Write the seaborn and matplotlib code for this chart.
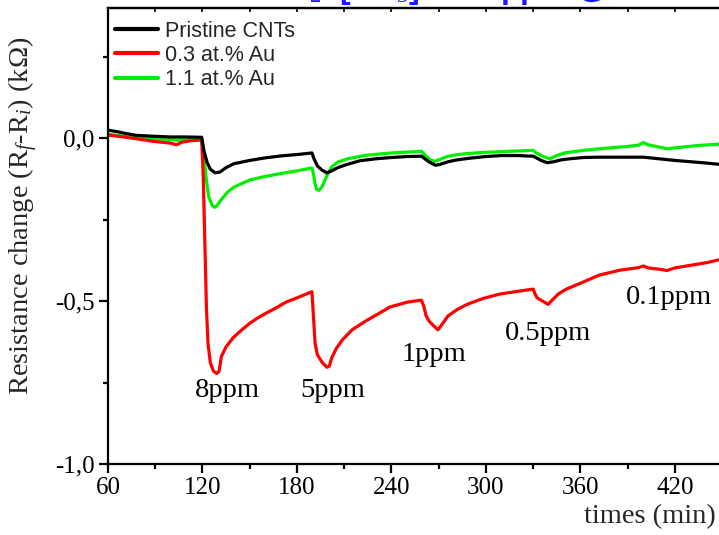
import matplotlib
matplotlib.use("Agg")
import matplotlib.pyplot as plt
import seaborn as sns
import pandas as pd
from matplotlib.ticker import FixedLocator

# ---------------- data ----------------
black_t = [60, 66, 72, 78, 90, 100, 110, 119.5, 121, 123, 125, 128, 131, 135, 140,
           150, 160, 170, 180, 189.5, 191, 193, 196, 199, 202, 206, 212, 220, 230, 240,
           250, 259, 261, 264, 268, 271, 276, 282, 290, 300, 310, 320, 330, 332, 335,
           339, 343, 348, 355, 362, 372, 385, 400, 410, 420, 430, 440, 448]
black_v = [0.025, 0.020, 0.014, 0.009, 0.006, 0.004, 0.004, 0.003, -0.040, -0.075,
           -0.095, -0.106, -0.104, -0.090, -0.078, -0.068, -0.060, -0.054, -0.050, -0.045,
           -0.065, -0.085, -0.098, -0.106, -0.100, -0.090, -0.080, -0.069, -0.063, -0.059,
           -0.056, -0.055, -0.062, -0.073, -0.083, -0.080, -0.072, -0.066, -0.061, -0.056,
           -0.053, -0.053, -0.055, -0.060, -0.068, -0.075, -0.072, -0.066, -0.062, -0.059,
           -0.058, -0.058, -0.058, -0.063, -0.068, -0.072, -0.076, -0.080]

green_t = [60, 70, 80, 90, 100, 104, 110, 119.5, 121, 122.5, 124, 126, 127.5, 129, 132,
           136, 140, 150, 160, 170, 180, 189.5, 190.5, 191.5, 192.5, 194, 196, 199, 202, 206,
           212, 224, 240, 259, 261, 264, 267.5, 271, 276, 282, 288, 300, 315, 330, 332,
           336, 340.5, 344, 350, 362, 375, 390, 397, 400, 403, 410, 415, 425, 435, 448]
green_v = [0.012, 0.006, 0.002, -0.002, -0.004, -0.006, -0.004, -0.002, -0.06, -0.13,
           -0.18, -0.205, -0.212, -0.208, -0.188, -0.165, -0.150, -0.128, -0.117, -0.108,
           -0.100, -0.091, -0.11, -0.14, -0.157, -0.160, -0.148, -0.115, -0.088, -0.073,
           -0.063, -0.052, -0.045, -0.040, -0.050, -0.064, -0.071, -0.064, -0.055, -0.050,
           -0.047, -0.043, -0.040, -0.037, -0.045, -0.055, -0.063, -0.055, -0.045, -0.037,
           -0.031, -0.025, -0.021, -0.013, -0.020, -0.027, -0.032, -0.027, -0.022, -0.018]

red_t = [60, 70, 80, 90, 100, 103.5, 107, 112, 119.5, 120.5, 121.5, 122.5, 123.5, 125, 127,
         129, 130.5, 132, 135, 139.5, 145, 150, 155, 160, 167, 173, 180, 189.5, 190.5, 191.5,
         193, 196, 199, 200.5, 202, 205, 209, 215, 224, 232, 239, 245, 250, 259, 260.5,
         262, 264, 266, 269.5, 272, 276, 282, 288, 298, 309, 320, 330, 331, 332.5, 336,
         339.5, 342, 346, 351, 360, 372, 385, 397, 400, 403, 410, 415, 420, 430, 440, 448]
red_v = [0.010, 0.004, -0.003, -0.010, -0.015, -0.020, -0.012, -0.008, -0.005, -0.12,
         -0.32, -0.52, -0.63, -0.69, -0.715, -0.722, -0.716, -0.67, -0.640, -0.612,
         -0.588, -0.568, -0.552, -0.538, -0.520, -0.503, -0.490, -0.471, -0.55, -0.63,
         -0.665, -0.688, -0.703, -0.700, -0.675, -0.645, -0.618, -0.588, -0.560, -0.538,
         -0.518, -0.510, -0.503, -0.497, -0.515, -0.545, -0.562, -0.572, -0.588, -0.572,
         -0.545, -0.525, -0.510, -0.492, -0.478, -0.470, -0.463, -0.476, -0.490, -0.500,
         -0.510, -0.497, -0.478, -0.463, -0.445, -0.420, -0.405, -0.397, -0.392, -0.398,
         -0.402, -0.406, -0.398, -0.390, -0.382, -0.373]

series_names = ["Pristine CNTs", "0.3 at.% Au", "1.1 at.% Au"]
series_colors = ["#000000", "#ff0000", "#00ee00"]

x_ticks = [60, 120, 180, 240, 300, 360, 420]
x_ticklabels = ["60", "120", "180", "240", "300", "360", "420"]
x_minor = [90, 150, 210, 270, 330, 390, 450]
y_ticks = [-1.0, -0.5, 0.0]
y_ticklabels = ["-1,0", "-0,5", "0,0"]
y_minor = [-0.75, -0.25, 0.25]

conc_labels = ["8ppm", "5ppm", "1ppm", "0.5ppm", "0.1ppm"]
conc_x = [135.9, 202.5, 266.7, 339.4, 416.2]
conc_y = [-0.794, -0.794, -0.684, -0.62, -0.509]

title_text = "Under NO$_2$  [NH$_3$] = 25 ppm @ RT"

# ---------------- style ----------------
sns.set_style("ticks")
plt.rcParams["font.family"] = ["Liberation Serif", "DejaVu Serif"]
plt.rcParams["mathtext.fontset"] = "custom"
plt.rcParams["mathtext.rm"] = "Liberation Serif"
plt.rcParams["mathtext.it"] = "Liberation Serif:italic"
plt.rcParams["axes.unicode_minus"] = False

fig = plt.figure(figsize=(7.19, 5.35), dpi=100)
ax = fig.add_axes([108 / 719, 71 / 535, 611 / 719, 456 / 535])

df_black = pd.DataFrame({"t": black_t, "v": black_v})
df_red = pd.DataFrame({"t": red_t, "v": red_v})
df_green = pd.DataFrame({"t": green_t, "v": green_v})

lw = 2.3
sns.lineplot(data=df_green, x="t", y="v", ax=ax, color=series_colors[2], lw=lw,
             estimator=None, sort=False, label=series_names[2])
sns.lineplot(data=df_red, x="t", y="v", ax=ax, color=series_colors[1], lw=lw,
             estimator=None, sort=False, label=series_names[1])
sns.lineplot(data=df_black, x="t", y="v", ax=ax, color=series_colors[0], lw=lw,
             estimator=None, sort=False, label=series_names[0])

ax.set_xlim(60, 448)
ax.set_ylim(-1.0, 0.4)

ax.xaxis.set_major_locator(FixedLocator(x_ticks))
ax.set_xticklabels(x_ticklabels)
ax.xaxis.set_minor_locator(FixedLocator(x_minor))
ax.yaxis.set_major_locator(FixedLocator(y_ticks))
ax.set_yticklabels(y_ticklabels)
ax.yaxis.set_minor_locator(FixedLocator(y_minor))

for side in ["left", "bottom", "top"]:
    ax.spines[side].set_linewidth(1.6)
    ax.spines[side].set_color("black")
ax.spines["right"].set_visible(False)

ax.tick_params(axis="both", which="major", direction="out", length=6.5, width=1.6,
               labelsize=18, color="black", labelcolor="black", top=False, right=False,
               bottom=True, left=True)
ax.tick_params(axis="both", which="minor", direction="out", length=3.5, width=1.6,
               color="black", top=False, right=False, bottom=True, left=True)
ax.tick_params(axis="x", which="major", pad=3)
ax.tick_params(axis="y", which="major", pad=3)

sec = ax.secondary_xaxis("top")
sec.set_xticks(sorted(x_ticks + x_minor))
sec.set_xticklabels([])
sec.tick_params(direction="in", length=3, width=1.2, color="black")
sec.spines["top"].set_linewidth(1.6)

ax.set_xlabel("times (min)", fontsize=20.5, ha="right")
ax.xaxis.set_label_coords(0.995, -0.088)
ax.set_ylabel("Resistance change (R$_f$-R$_i$) (k\u03a9)", fontsize=20.5)
ax.yaxis.set_label_coords(-0.111, 0.544)

for lab, xx, yy in zip(conc_labels, conc_x, conc_y):
    ax.text(xx, yy, lab, fontsize=20.5, ha="center", va="baseline", color="black")

handles, labels = ax.get_legend_handles_labels()
order = [labels.index(n) for n in series_names]
leg = ax.legend([handles[i] for i in order], [labels[i] for i in order],
                loc="upper left", bbox_to_anchor=(0.0115, 0.972), frameon=False,
                borderpad=0, borderaxespad=0, handlelength=2.0, handletextpad=0.33,
                labelspacing=0.15, prop={"family": "Liberation Sans", "size": 15.5})
for h in leg.get_lines():
    h.set_linewidth(3)

fig.text(160 / 719, 1.0 + 2 / 535, title_text, fontsize=23, color="#1a1aff",
         fontweight="bold", family="Liberation Sans", ha="left", va="baseline")

fig.savefig("out.png", dpi=100)
